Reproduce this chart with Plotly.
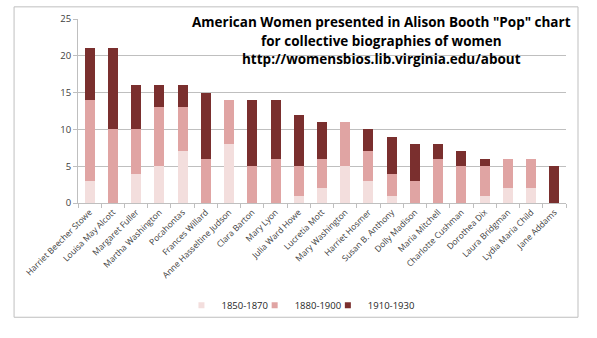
import plotly.graph_objects as go

names = ["Harriet Beecher Stowe", "Louisa May Alcott", "Margaret Fuller", "Martha Washington",
         "Pocahontas", "Frances Willard", "Anne Hasseltine Judson", "Clara Barton", "Mary Lyon",
         "Julia Ward Howe", "Lucretia Mott", "Mary Washington", "Harriet Hosmer", "Susan B. Anthony",
         "Dolly Madison", "Maria Mitchell", "Charlotte Cushman", "Dorothea Dix", "Laura Bridgman",
         "Lydia Maria Child", "Jane Addams"]
s1850 = [3, 0, 4, 5, 7, 0, 8, 0, 0, 1, 2, 5, 3, 1, 0, 0, 0, 1, 2, 2, 0]
s1880 = [11, 10, 6, 8, 6, 6, 6, 5, 6, 4, 4, 6, 4, 3, 3, 6, 5, 4, 4, 4, 0]
s1910 = [7, 11, 6, 3, 3, 9, 0, 9, 8, 7, 5, 0, 3, 5, 5, 2, 2, 1, 0, 0, 5]
series_names = ["1850-1870", "1880-1900", "1910-1930"]
colors = ["#F3DEDD", "#E0A4A3", "#7A2F2E"]
title_lines = ['American Women presented in Alison Booth "Pop" chart',
               'for collective biographies of women',
               'http://womensbios.lib.virginia.edu/about']

legend_ids = ["legend", "legend2", "legend3"]
legend_x = [0.212, 0.362, 0.512]

fig = go.Figure()
for nm, vals, c in zip(series_names, [s1850, s1880, s1910], colors):
    fig.add_trace(go.Bar(x=names, y=vals, name=nm, legendgroup=nm, showlegend=False,
                         marker=dict(color=c, line=dict(width=0))))
# legend entries with small square swatches
for nm, c, lg in zip(series_names, colors, legend_ids):
    fig.add_trace(go.Scatter(x=[None], y=[None], mode="markers", name=nm, legendgroup=nm,
                             legend=lg, marker=dict(symbol="square", size=6, color=c)))

font = "Open Sans, Liberation Sans, sans-serif"
title_y = [0.982, 0.882, 0.782]
annotations = [dict(text=t, x=0.621, y=yy, xref="paper", yref="paper",
                    xanchor="center", yanchor="middle", showarrow=False,
                    font=dict(size=13.5, color="black", family=font, weight="bold"))
               for t, yy in zip(title_lines, title_y)]

legend_common = dict(orientation="h", y=-0.556, xanchor="left", yanchor="middle",
                     font=dict(size=9.5, color="#262626"), itemwidth=30,
                     bgcolor="rgba(0,0,0,0)")

fig.update_layout(
    barmode="stack", bargap=0.57,
    width=597, height=338,
    margin=dict(l=78, r=31, t=13, b=135),
    paper_bgcolor="white", plot_bgcolor="white",
    font=dict(family=font, size=9, color="#404040"),
    showlegend=True,
    legend=dict(x=legend_x[0], **legend_common),
    legend2=dict(x=legend_x[1], **legend_common),
    legend3=dict(x=legend_x[2], **legend_common),
    yaxis=dict(range=[0, 25], dtick=5, showgrid=True, gridcolor="#BFBFBF", gridwidth=1,
               showline=True, linecolor="#BFBFBF", ticks="outside", ticklen=4,
               tickcolor="#BFBFBF", tickfont=dict(size=9.5, color="#404040"), zeroline=False),
    xaxis=dict(tickangle=-45, showline=True, linecolor="#BFBFBF", ticks="outside",
               tickson="boundaries", ticklen=4, tickcolor="#BFBFBF",
               tickfont=dict(size=8.5, color="#404040")),
    annotations=annotations,
    shapes=[dict(type="rect", xref="paper", yref="paper", x0=-0.131, x1=1.0246, y0=-0.621, y1=1.066,
                 line=dict(color="#BFBFBF", width=1), layer="below")],
)
fig.write_html("out.html")
